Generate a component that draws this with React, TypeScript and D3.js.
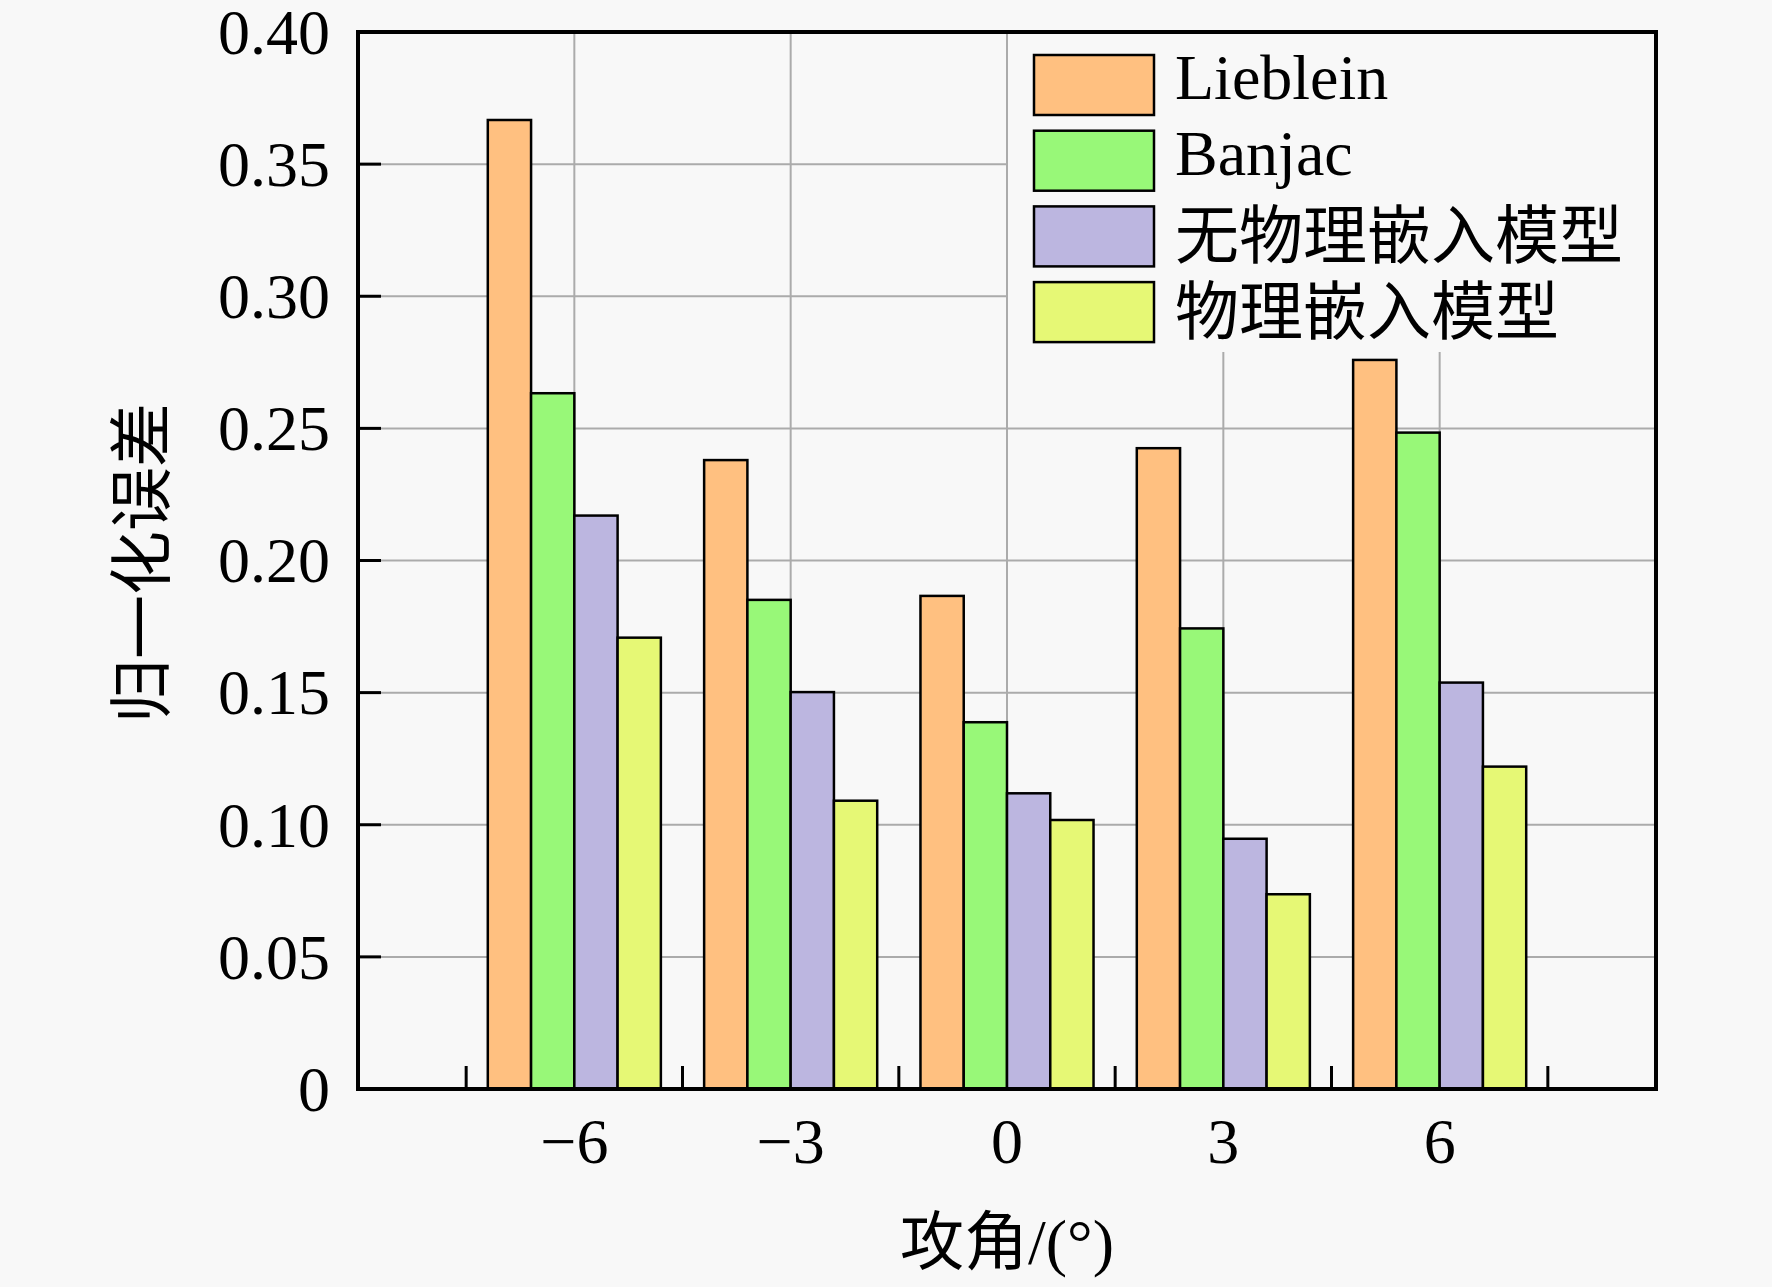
import React, { useEffect } from 'react';
import * as d3 from 'd3';

const angles = [-6, -3, 0, 3, 6];
const angleLabels = ['\u22126', '\u22123', '0', '3', '6'];
const seriesNames = ['Lieblein', 'Banjac', '无物理嵌入模型', '物理嵌入模型'];
const lieblein = [0.3667, 0.238, 0.1866, 0.2425, 0.2759];
const banjac = [0.2633, 0.1851, 0.1388, 0.1743, 0.2484];
const noPhys = [0.217, 0.1502, 0.1119, 0.0947, 0.1538];
const phys = [0.1708, 0.1091, 0.1018, 0.0737, 0.122];
const seriesColors = ['#FFC080', '#98F878', '#BCB6E0', '#E6F875'];
const yTicks = [0, 0.05, 0.1, 0.15, 0.2, 0.25, 0.3, 0.35, 0.4];
const xBoundaryTicks = [-7.5, -4.5, -1.5, 1.5, 4.5, 7.5];

const W = 1772;
const H = 1287;
const L = 358;
const R = 1656;
const T = 32;
const B = 1089;
const BG = '#F8F8F8';
const FONT = '"Liberation Serif", "Times New Roman", "Noto Sans CJK SC", serif';

export default function App() {
  useEffect(() => {
    document.body.style.margin = '0';
    document.body.style.background = BG;
  }, []);

  const x = d3.scaleLinear().domain([-9, 9]).range([L, R]);
  const y = d3.scaleLinear().domain([0, 0.4]).range([B, T]);
  const series = [lieblein, banjac, noPhys, phys];
  const barW = 0.6;
  const fontSize = 64;

  const legendRows = seriesNames.map((n, i) => ({
    name: n,
    color: seriesColors[i],
    y0: 55 + i * 75.7,
    latin: /^[A-Za-z]/.test(n),
  }));

  return (
    <svg width={W} height={H} style={{ position: 'absolute', left: 0, top: 0, display: 'block' }} fontFamily={FONT}>
      <rect x={0} y={0} width={W} height={H} fill={BG} />
      {/* gridlines */}
      {yTicks.slice(1, -1).map((t) => (
        <line key={'gy' + t} x1={L} x2={R} y1={y(t)} y2={y(t)} stroke="#ABABAB" strokeWidth={2} />
      ))}
      {angles.map((a) => (
        <line key={'gx' + a} x1={x(a)} x2={x(a)} y1={T} y2={B} stroke="#ABABAB" strokeWidth={2} />
      ))}
      {/* legend background */}
      <rect x={1008} y={T + 2} width={R - 1008 - 2} height={352 - T - 2} fill={BG} />
      {/* bars */}
      {series.map((vals, si) =>
        vals.map((v, ci) => {
          const x0 = x(angles[ci] - 1.2 + si * barW);
          const x1 = x(angles[ci] - 1.2 + (si + 1) * barW);
          return (
            <rect
              key={'b' + si + '-' + ci}
              x={x0}
              y={y(v)}
              width={x1 - x0}
              height={y(0) - y(v)}
              fill={seriesColors[si]}
              stroke="#000"
              strokeWidth={2.5}
            />
          );
        })
      )}
      {/* ticks */}
      {yTicks.slice(1, -1).map((t) => (
        <line key={'ty' + t} x1={L} x2={L + 23} y1={y(t)} y2={y(t)} stroke="#000" strokeWidth={3} />
      ))}
      {xBoundaryTicks.map((t) => (
        <line key={'tx' + t} x1={x(t)} x2={x(t)} y1={B} y2={B - 23} stroke="#000" strokeWidth={3} />
      ))}
      {/* frame */}
      <rect x={L} y={T} width={R - L} height={B - T} fill="none" stroke="#000" strokeWidth={4} />
      {/* y tick labels */}
      {yTicks.map((t) => (
        <text key={'ly' + t} x={330} y={y(t)} dy="0.34em" textAnchor="end" fontSize={fontSize} fill="#000">
          {t === 0 ? '0' : t.toFixed(2)}
        </text>
      ))}
      {/* x tick labels */}
      {angles.map((a, i) => (
        <text key={'lx' + a} x={x(a)} y={1163} textAnchor="middle" fontSize={fontSize} fill="#000">
          {angleLabels[i]}
        </text>
      ))}
      {/* axis titles */}
      <text x={1007} y={1264} textAnchor="middle" fontSize={fontSize} fill="#000">
        攻角/(°)
      </text>
      <text
        transform={`translate(${164},${563}) rotate(-90)`}
        textAnchor="middle"
        fontSize={fontSize}
        fill="#000"
      >
        归一化误差
      </text>
      {/* legend */}
      {legendRows.map((r) => (
        <g key={'lg' + r.name}>
          <rect x={1034} y={r.y0} width={120} height={60} fill={r.color} stroke="#000" strokeWidth={2.5} />
          <text x={1175} y={r.y0 + (r.latin ? 44 : 52)} fontSize={fontSize} fill="#000">
            {r.name}
          </text>
        </g>
      ))}
    </svg>
  );
}
